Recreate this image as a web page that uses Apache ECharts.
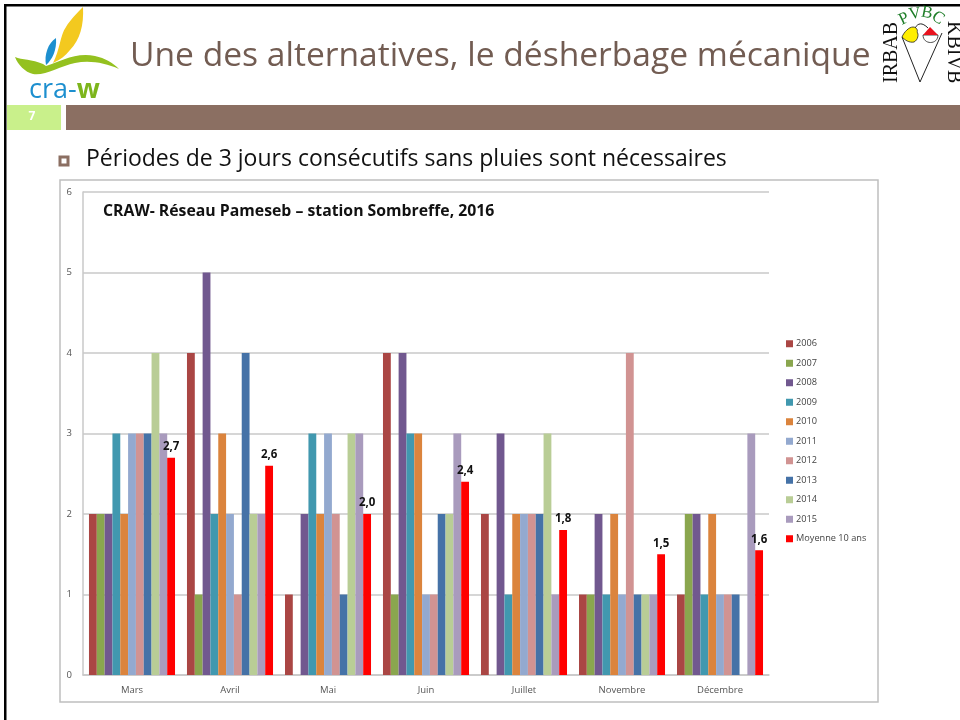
<!DOCTYPE html>
<html>
<head>
<meta charset="utf-8">
<style>
  html, body { margin: 0; padding: 0; background: #fff; }
  #main { width: 960px; height: 720px; }
</style>
<script src="https://cdn.jsdelivr.net/npm/echarts@6/dist/echarts.min.js"></script>
</head>
<body>
<div id="main"></div>
<script>
var mois = ["Mars", "Avril", "Mai", "Juin", "Juillet", "Novembre", "Décembre"];

var v2006 = [2, 4, 1, 4, 2, 1, 1];
var v2007 = [2, 1, 0, 1, 0, 1, 2];
var v2008 = [2, 5, 2, 4, 3, 2, 2];
var v2009 = [3, 2, 3, 3, 1, 1, 1];
var v2010 = [2, 3, 2, 3, 2, 2, 2];
var v2011 = [3, 2, 3, 1, 2, 1, 1];
var v2012 = [3, 1, 2, 1, 2, 4, 1];
var v2013 = [3, 4, 1, 2, 2, 1, 1];
var v2014 = [4, 2, 3, 2, 3, 1, 0];
var v2015 = [3, 2, 3, 3, 1, 1, 3];
var moyenne = [2.7, 2.6, 2.0, 2.4, 1.8, 1.5, 1.55];

var annees = ["2006", "2007", "2008", "2009", "2010", "2011", "2012", "2013", "2014", "2015"];
var valeurs = [v2006, v2007, v2008, v2009, v2010, v2011, v2012, v2013, v2014, v2015];
var couleurs = ["#aa4644", "#8aa64e", "#71588f", "#4198af", "#db843d", "#93a9cf", "#d19392", "#4572a7", "#b9cd96", "#a99bbd"];

var series = annees.map(function (a, i) {
  return {
    name: a,
    type: "bar",
    barGap: 0,
    barCategoryGap: "12.2%",
    itemStyle: { color: couleurs[i] },
    data: valeurs[i]
  };
});
series.push({
  name: "Moyenne 10 ans",
  type: "bar",
  itemStyle: { color: "#ff0000" },
  label: {
    show: true,
    position: "top",
    distance: 5,
    fontFamily: "Open Sans",
    fontSize: 11.5,
    fontWeight: "bold",
    color: "#111",
    formatter: function (p) {
      return p.value.toFixed(1).replace(".", ",");
    }
  },
  data: moyenne
});

// formes des logos
function forme(nom, d) {
  echarts.graphic.registerShape(nom, echarts.graphic.extendPath(d, {}));
}
forme("plumeJaune", "M83,7 C84,25 80,40 70,50 C65,56 60,60 53,63 C60,50 60,35 66,27 C70,20 78,12 83,7Z");
forme("plumeBleue", "M56,38 C57,50 52,60 46,65 C44,55 48,43 56,38Z");
forme("vague", "M15,57 C22,60 32,59 43,64 L46,66 C60,62 75,52 95,56 C105,58 113,63 119,69 C105,63 90,60 75,63 C60,66 45,76 33,74 C25,72 18,65 15,57Z");
forme("cone", "M902,37 L920,82 L942,33");
forme("anse", "M915,28 C918,23 922,22 928,28");
forme("coeur", "M902,37 C904,32 909,27 913,27 C917,27 918,31 917,32 C919,34 918,40 914,42 C909,43 905,40 902,37Z");
forme("bol", "M923,35 C923,45 938,45 938,35Z");
forme("toit", "M923,35 L930,27 L938,35Z");

// décor de la diapositive (bandeau, logos)
var decor = [
  { type: "rect", silent: true, shape: { x: 60, y: 180, width: 818, height: 522 }, style: { fill: "#fff", stroke: "#bfbfbf", lineWidth: 1.5 }, z: -1 },
  { type: "rect", shape: { x: 4, y: 4, width: 956, height: 2.5 }, style: { fill: "#000" } },
  { type: "rect", shape: { x: 4, y: 4, width: 2.5, height: 716 }, style: { fill: "#000" } },
  { type: "rect", shape: { x: 7, y: 105, width: 54, height: 25 }, style: { fill: "#c9f08b" } },
  { type: "rect", shape: { x: 66, y: 105, width: 894, height: 25 }, style: { fill: "#8b6f62" } },
  { type: "text", style: { x: 32, y: 117, text: "7", fill: "#fff", font: "bold 12px 'Open Sans'", align: "center", verticalAlign: "middle" } },
  { type: "rect", shape: { x: 60, y: 157, width: 8, height: 8 }, style: { fill: "#fff", stroke: "#8b6f62", lineWidth: 3 } },
  { type: "text", style: { x: 86, y: 159, text: "Périodes de 3 jours consécutifs sans pluies sont nécessaires", fill: "#111", font: "23px 'Open Sans'", verticalAlign: "middle" } },
  // logo cra-w
  { type: "plumeJaune", style: { fill: "#f3c91f" } },
  { type: "plumeBleue", style: { fill: "#1d8fcf" } },
  { type: "vague", style: { fill: "#94c11f" } },
  {
    type: "text",
    style: {
      x: 29, y: 77,
      text: "{a|cra-}{b|w}",
      rich: {
        a: { fill: "#1d8fcf", font: "27px 'Open Sans'" },
        b: { fill: "#7db51c", font: "bold 27px 'Open Sans'" }
      }
    }
  },
  // logo IRBAB
  { type: "text", rotation: Math.PI / 2, x: 882, y: 83, style: { text: "IRBAB", fill: "#111", font: "20px 'Liberation Serif'", verticalAlign: "top" } },
  { type: "text", rotation: -Math.PI / 2, x: 943, y: 21, style: { text: "KBIVB", fill: "#111", font: "20px 'Liberation Serif'", align: "left", verticalAlign: "bottom" } },
  { type: "cone", style: { fill: null, stroke: "#222", lineWidth: 1 } },
  { type: "anse", style: { fill: null, stroke: "#222", lineWidth: 1 } },
  { type: "coeur", style: { fill: "#ffee00", stroke: "#222", lineWidth: 0.8 } },
  { type: "bol", style: { fill: "#fff", stroke: "#222", lineWidth: 0.8 } },
  { type: "toit", style: { fill: "#e8121e" } },
  { type: "text", rotation: 0.45, x: 904, y: 19, style: { text: "P", fill: "#1e7d28", font: "17px 'Liberation Serif'", align: "center", verticalAlign: "middle" } },
  { type: "text", rotation: 0.15, x: 915, y: 14, style: { text: "V", fill: "#1e7d28", font: "17px 'Liberation Serif'", align: "center", verticalAlign: "middle" } },
  { type: "text", rotation: -0.2, x: 927, y: 13, style: { text: "B", fill: "#1e7d28", font: "17px 'Liberation Serif'", align: "center", verticalAlign: "middle" } },
  { type: "text", rotation: -0.6, x: 938, y: 18, style: { text: "C", fill: "#1e7d28", font: "17px 'Liberation Serif'", align: "center", verticalAlign: "middle" } }
];

var myChart = echarts.init(document.getElementById("main"));
myChart.setOption({
  animation: false,
  backgroundColor: "#fff",
  title: [
    {
      text: "Une des alternatives, le désherbage mécanique",
      left: 125,
      top: 34,
      textStyle: { fontFamily: "Open Sans", fontSize: 33.6, fontWeight: "normal", color: "#725c52" }
    },
    {
      text: "CRAW- Réseau Pameseb – station Sombreffe, 2016",
      left: 98,
      top: 198,
      textStyle: { fontFamily: "Open Sans", fontSize: 15.8, fontWeight: "bold", color: "#111" }
    }
  ],
  grid: { left: 83, right: 191, top: 192, bottom: 45 },
  legend: {
    orient: "vertical",
    left: 781,
    top: 333,
    itemWidth: 7,
    itemHeight: 7,
    itemGap: 8,
    icon: "rect",
    textStyle: { fontFamily: "Open Sans", fontSize: 9.2, color: "#444", padding: [0, 0, 0, -2], lineHeight: 11.5 },
    data: annees.concat(["Moyenne 10 ans"])
  },
  xAxis: {
    type: "category",
    data: mois,
    axisTick: { show: false },
    axisLine: { lineStyle: { color: "#c8c8c8", width: 1.5 } },
    axisLabel: { fontFamily: "Open Sans", fontSize: 9.5, color: "#555", margin: 10 }
  },
  yAxis: {
    type: "value",
    min: 0,
    max: 6,
    interval: 1,
    axisTick: { show: false },
    axisLine: { show: true, lineStyle: { color: "#c8c8c8", width: 1.5 } },
    splitLine: { lineStyle: { color: "#c8c8c8", width: 1.5 } },
    axisLabel: { fontFamily: "Open Sans", fontSize: 9.5, color: "#555", margin: 11 }
  },
  series: series,
  graphic: decor
});
</script>
</body>
</html>
